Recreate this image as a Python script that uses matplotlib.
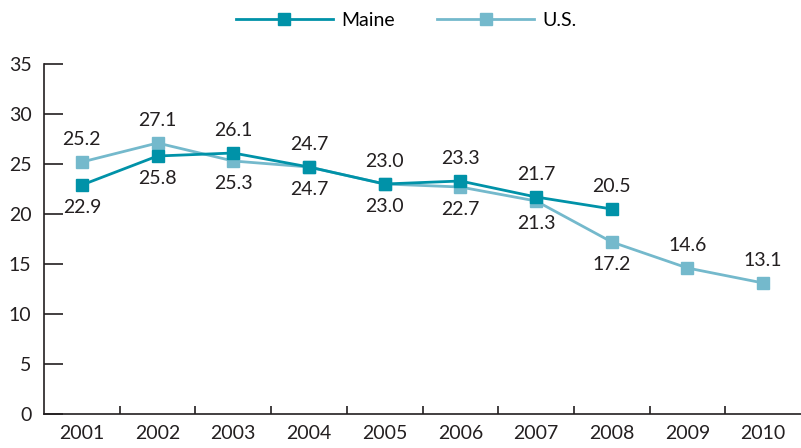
import matplotlib
matplotlib.use("Agg")
import matplotlib.pyplot as plt
import numpy as np

years = ["2001", "2002", "2003", "2004", "2005", "2006", "2007", "2008", "2009", "2010"]
maine = [22.9, 25.8, 26.1, 24.7, 23.0, 23.3, 21.7, 20.5]
us = [25.2, 27.1, 25.3, 24.7, 23.0, 22.7, 21.3, 17.2, 14.6, 13.1]
maine_pos = ["below", "below", "above", "above", "above", "above", "above", "above"]
us_pos = ["above", "above", "below", "below", "below", "below", "below", "below", "above", "above"]
yticks = [0, 5, 10, 15, 20, 25, 30, 35]

plt.rcParams['font.family'] = ['Lato', 'DejaVu Sans']
c_maine = "#0092A8"
c_us = "#74B9CC"
fs = 14

fig = plt.figure(figsize=(8.01, 4.48), dpi=100)
ax = fig.add_axes([44/801, 34/448, 757/801, 350/448])
x = np.arange(len(years))
ax.plot(x[:len(us)], us, color=c_us, lw=2, marker='s', ms=8.5, label="U.S.", zorder=3)
ax.plot(x[:len(maine)], maine, color=c_maine, lw=2, marker='s', ms=8.5, label="Maine", zorder=4)

def annotate(vals, pos):
    for i, (v, p) in enumerate(zip(vals, pos)):
        off = 16 if p == "above" else -16
        ax.annotate(f"{v:.1f}", (x[i], v), xytext=(0, off), textcoords="offset points",
                    ha="center", va="center", fontsize=fs, color="#231f20")

annotate(maine, maine_pos)
annotate(us, us_pos)

ax.set_xlim(-0.5, 9.5)
ax.set_ylim(0, 35)
ax.set_yticks(yticks)
ax.set_yticklabels([str(t) for t in yticks], fontsize=fs, color="#231f20")
ax.tick_params(axis='y', direction='in', length=14, width=1.2, pad=9, color="#231f20")
ax.set_xticks(x)
ax.set_xticklabels(years, fontsize=fs, color="#231f20")
ax.tick_params(axis='x', which='major', length=0, pad=8)
ax.set_xticks(x[:-1] + 0.5, minor=True)
ax.tick_params(axis='x', which='minor', direction='in', length=6, width=1.2, color="#231f20")
for s in ['top', 'right']:
    ax.spines[s].set_visible(False)
for s in ['left', 'bottom']:
    ax.spines[s].set_linewidth(1.2)
    ax.spines[s].set_color("#231f20")

h, l = ax.get_legend_handles_labels()
fig.legend(h[::-1], l[::-1], loc='center', bbox_to_anchor=(0.507, 0.955), ncol=2, frameon=False,
           fontsize=fs, handlelength=5.0, columnspacing=2.2, handletextpad=0.4)

fig.savefig("out.png", dpi=100)
